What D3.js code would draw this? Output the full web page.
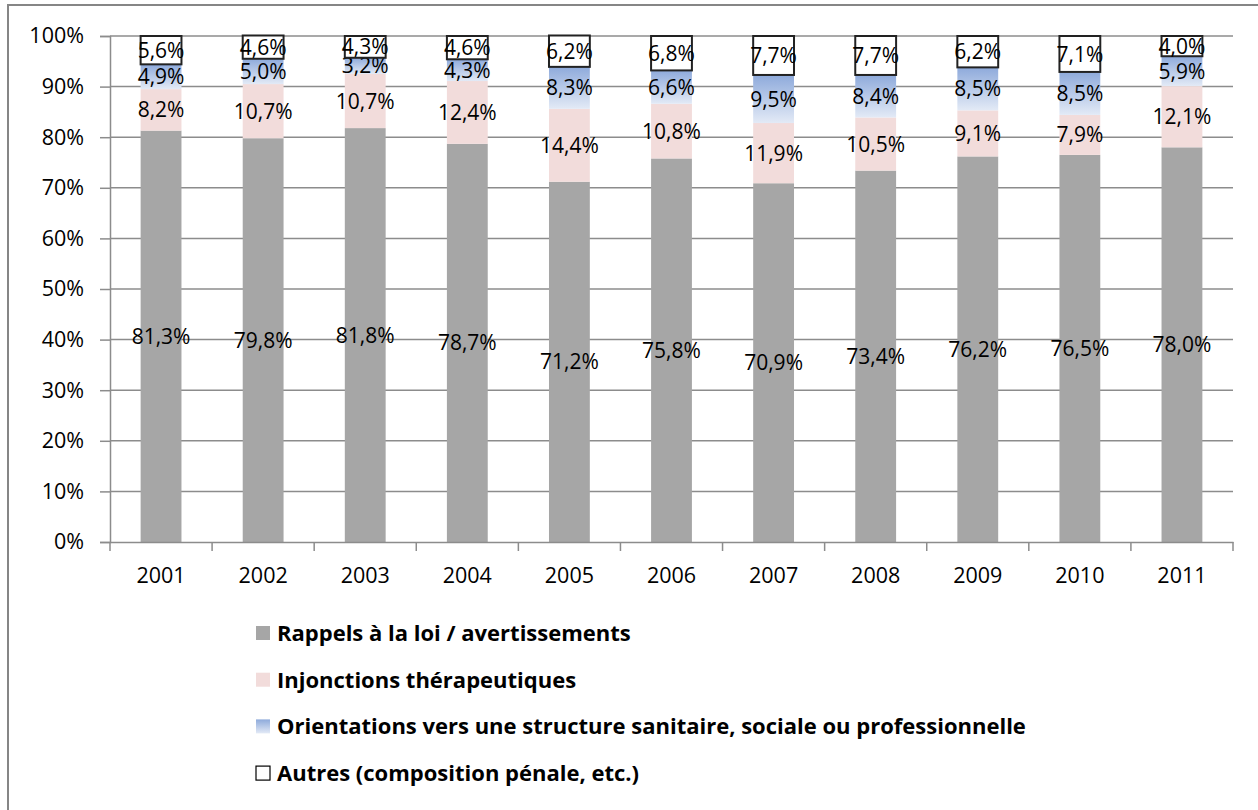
<!DOCTYPE html>
<html><head><meta charset="utf-8">
<script src="https://cdn.jsdelivr.net/npm/d3@7"></script>
<style>body{margin:0;background:#fff}svg{display:block}text{font-family:"Open Sans",sans-serif}</style>
</head><body>
<svg id="c" width="1258" height="810"></svg>
<script>
const years = ["2001","2002","2003","2004","2005","2006","2007","2008","2009","2010","2011"];
const rappels = [81.3,79.8,81.8,78.7,71.2,75.8,70.9,73.4,76.2,76.5,78.0];
const injonctions = [8.2,10.7,10.7,12.4,14.4,10.8,11.9,10.5,9.1,7.9,12.1];
const orientations = [4.9,5.0,3.2,4.3,8.3,6.6,9.5,8.4,8.5,8.5,5.9];
const autres = [5.6,4.6,4.3,4.6,6.2,6.8,7.7,7.7,6.2,7.1,4.0];
const seriesNames = ["Rappels à la loi / avertissements","Injonctions thérapeutiques","Orientations vers une structure sanitaire, sociale ou professionnelle","Autres (composition pénale, etc.)"];
const yTicks = [0,10,20,30,40,50,60,70,80,90,100];

const svg = d3.select("#c");
const defs = svg.append("defs");
const g1 = defs.append("linearGradient").attr("id","blueGrad").attr("x1",0).attr("y1",0).attr("x2",0).attr("y2",1);
g1.append("stop").attr("offset","0%").attr("stop-color","#8eaadb");
g1.append("stop").attr("offset","100%").attr("stop-color","#e3eaf6");

// outer border
svg.append("path").attr("d","M8,812 L8,5 L1260,5").attr("fill","none").attr("stroke","#868686").attr("stroke-width",2);

const L=110, R=1233, T=36, B=542;
const x = d3.scaleBand().domain(years).range([L,R]).paddingInner(0.6).paddingOuter(0.3);
const xb = d3.scaleBand().domain(years).range([L,R]);
const y = d3.scaleLinear().domain([0,100]).range([B,T]);

// gridlines
svg.append("g").selectAll("line").data(yTicks.filter(d=>d>0)).join("line")
  .attr("x1",L).attr("x2",R).attr("y1",d=>y(d)).attr("y2",d=>y(d))
  .attr("stroke","#8c8c8c").attr("stroke-width",1.5);

// y axis
const ya = svg.append("g").attr("transform",`translate(${L},0)`)
  .call(d3.axisLeft(y).tickValues(yTicks).tickFormat(d=>d+"%").tickSize(10).tickPadding(16));
ya.select(".domain").attr("stroke","#8c8c8c").attr("stroke-width",1.5);
ya.selectAll(".tick line").attr("stroke","#8c8c8c").attr("stroke-width",1.5);
ya.selectAll("text").attr("font-size",21.5).attr("fill","#000");

// stacked data
const data = years.map((yr,i)=>({year:yr, r:rappels[i], inj:injonctions[i], o:orientations[i], a:autres[i]}));
const keys = ["r","inj","o","a"];
const stack = d3.stack().keys(keys)(data);
const fills = {r:"#a6a6a6", inj:"#f2dcdb", o:"url(#blueGrad)", a:"#ffffff"};

const layers = svg.append("g").selectAll("g").data(stack).join("g");
layers.selectAll("rect").data(d=>d.map(v=>({k:d.key, v}))).join("rect")
  .attr("x",d=>x(d.v.data.year))
  .attr("width",x.bandwidth())
  .attr("y",d=>y(d.v[1]))
  .attr("height",d=>y(d.v[0])-y(d.v[1]))
  .attr("fill",d=>fills[d.k])
  .attr("stroke",d=>d.k==="a"?"#222":"none")
  .attr("stroke-width",d=>d.k==="a"?2:0);

// x axis
const xa = svg.append("g").attr("transform",`translate(0,${B})`)
  .call(d3.axisBottom(xb).tickSize(0).tickPadding(26));
xa.select(".domain").attr("stroke","#8c8c8c").attr("stroke-width",1.5);
xa.selectAll("text").attr("font-size",21.5).attr("fill","#000");
svg.append("g").selectAll("line").data(d3.range(years.length+1)).join("line")
  .attr("x1",i=>L+i*xb.bandwidth()).attr("x2",i=>L+i*xb.bandwidth())
  .attr("y1",B).attr("y2",B+9).attr("stroke","#8c8c8c").attr("stroke-width",1.5);

// data labels
const fmt = v=>v.toFixed(1).replace(".",",")+"%";
layers.selectAll("text").data(d=>d.map(v=>({k:d.key, v}))).join("text")
  .attr("x",d=>x(d.v.data.year)+x.bandwidth()/2)
  .attr("y",d=>y((d.v[0]+d.v[1])/2))
  .attr("dy","0.36em")
  .attr("text-anchor","middle")
  .attr("font-size",21)
  .attr("fill","#000")
  .text(d=>fmt(d.v[1]-d.v[0]));

// legend
const legFills = ["#a6a6a6","#f2dcdb","url(#blueGrad)","#ffffff"];
const leg = svg.append("g").selectAll("g").data(seriesNames).join("g")
  .attr("transform",(d,i)=>`translate(256,${633+i*46.7})`);
leg.append("rect").attr("x",0).attr("y",-7).attr("width",14).attr("height",14)
  .attr("fill",(d,i)=>legFills[i])
  .attr("stroke",(d,i)=>i===3?"#000":"none").attr("stroke-width",1.2);
leg.append("text").attr("x",21).attr("y",0).attr("dy","0.36em")
  .attr("font-size",22).attr("font-weight","bold").attr("fill","#000").text(d=>d);
</script>
</body></html>
